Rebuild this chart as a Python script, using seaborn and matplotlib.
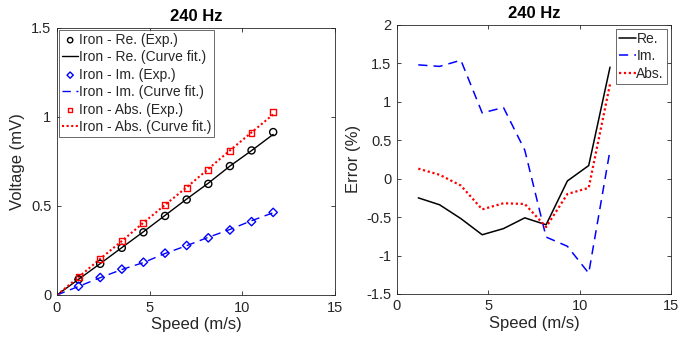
import numpy as np
import pandas as pd
import matplotlib
matplotlib.use("Agg")
import matplotlib.pyplot as plt
import seaborn as sns

sns.set_theme(style="ticks")
plt.rcParams["font.family"] = ["Liberation Sans", "DejaVu Sans"]

# Measured speeds (m/s)
speed = [1.167, 2.333, 3.5, 4.667, 5.833, 7.0, 8.167, 9.333, 10.5, 11.667]
fit_speed = [0.0] + speed

# Induced voltage (mV), measured
re_exp = [0.088, 0.175, 0.265, 0.352, 0.444, 0.536, 0.624, 0.724, 0.812, 0.915]
im_exp = [0.049, 0.098, 0.145, 0.184, 0.235, 0.278, 0.321, 0.365, 0.412, 0.464]
abs_exp = [0.100, 0.203, 0.303, 0.404, 0.504, 0.603, 0.703, 0.810, 0.912, 1.026]

# Induced voltage (mV), curve fit
re_fit = [0.0, 0.088, 0.176, 0.266, 0.355, 0.447, 0.539, 0.628, 0.724, 0.811, 0.902]
im_fit = [0.0, 0.048, 0.097, 0.143, 0.182, 0.233, 0.277, 0.324, 0.368, 0.417, 0.462]
abs_fit = [0.0, 0.100, 0.203, 0.303, 0.406, 0.506, 0.605, 0.708, 0.812, 0.913, 1.014]

# Relative error between measurement and fit (%)
re_err = [-0.25, -0.34, -0.52, -0.73, -0.65, -0.51, -0.60, -0.03, 0.17, 1.45]
im_err = [1.48, 1.46, 1.54, 0.855, 0.925, 0.37, -0.76, -0.88, -1.23, 0.37]
abs_err = [0.13, 0.05, -0.09, -0.40, -0.32, -0.33, -0.63, -0.20, -0.12, 1.23]

title = "240 Hz"
x_ticks = [0, 5, 10, 15]
v_ticks = [0, 0.5, 1, 1.5]
e_ticks = [-1.5, -1, -0.5, 0, 0.5, 1, 1.5, 2]

TXT = "#262626"
BLUE = "#0000ff"
RED = "#ff0000"

fig = plt.figure(figsize=(6.78, 3.41), dpi=100)
ax1 = fig.add_axes([0.084, 0.135, 0.410, 0.783])
ax2 = fig.add_axes([0.5855, 0.138, 0.404, 0.789])


def style_axes(ax):
    for s in ax.spines.values():
        s.set_color(TXT)
        s.set_linewidth(0.6)
    ax.tick_params(direction="in", length=3, width=0.6, colors=TXT,
                   labelsize=10.5, top=True, right=True, pad=4)
    ax.set_title(title, fontsize=12, fontweight="bold", color="black", pad=5)


# Left: voltage vs speed
mk = dict(ax=ax1, zorder=3, linewidth=1.0, legend=True)
sns.scatterplot(x=speed, y=re_exp, marker="o", s=26, facecolor="none",
                edgecolor="black", label="Iron - Re. (Exp.)", **mk)
sns.lineplot(x=fit_speed, y=re_fit, ax=ax1, color="black", linewidth=1.0,
             label="Iron - Re. (Curve fit.)")
sns.scatterplot(x=speed, y=im_exp, marker="D", s=18, facecolor="none",
                edgecolor=BLUE, label="Iron - Im. (Exp.)", **mk)
sns.lineplot(x=fit_speed, y=im_fit, ax=ax1, color=BLUE, linewidth=1.0,
             dashes=False, label="Iron - Im. (Curve fit.)").lines[-1].set_dashes([6, 4])
sns.scatterplot(x=speed, y=abs_exp, marker="s", s=18, facecolor="none",
                edgecolor=RED, label="Iron - Abs. (Exp.)", **mk)
sns.lineplot(x=fit_speed, y=abs_fit, ax=ax1, color=RED, linewidth=1.5,
             label="Iron - Abs. (Curve fit.)").lines[-1].set_linestyle((0, (1, 1.2)))

ax1.set_xlim(0, 15)
ax1.set_ylim(0, 1.5)
ax1.set_xticks(x_ticks)
ax1.set_yticks(v_ticks)
ax1.set_yticklabels(["0", "0.5", "1", "1.5"])
ax1.set_xlabel("Speed (m/s)", fontsize=12, color=TXT, labelpad=2)
ax1.set_ylabel("Voltage (mV)", fontsize=12, color=TXT, labelpad=4)
style_axes(ax1)
leg1 = ax1.legend(loc="upper left", fontsize=10, frameon=True, fancybox=False,
                  edgecolor=TXT, handlelength=1.2, handletextpad=0.05,
                  borderpad=0.2, labelspacing=0.25, borderaxespad=0.15,
                  markerscale=0.75)
leg1.get_frame().set_linewidth(0.6)

# Right: fit error vs speed
sns.lineplot(x=speed, y=re_err, ax=ax2, color="black", linewidth=1.1, label="Re.")
sns.lineplot(x=speed, y=im_err, ax=ax2, color=BLUE, linewidth=1.1,
             label="Im.").lines[-1].set_dashes([6, 4])
sns.lineplot(x=speed, y=abs_err, ax=ax2, color=RED, linewidth=1.6,
             label="Abs.").lines[-1].set_linestyle((0, (1, 1.2)))

ax2.set_xlim(0, 15)
ax2.set_ylim(-1.5, 2)
ax2.set_xticks(x_ticks)
ax2.set_yticks(e_ticks)
ax2.set_yticklabels(["-1.5", "-1", "-0.5", "0", "0.5", "1", "1.5", "2"])
ax2.set_xlabel("Speed (m/s)", fontsize=12, color=TXT, labelpad=2)
ax2.set_ylabel("Error (%)", fontsize=12, color=TXT, labelpad=4)
style_axes(ax2)
leg2 = ax2.legend(loc="upper right", fontsize=10, frameon=True, fancybox=False,
                  edgecolor=TXT, handlelength=1.2, handletextpad=0.05,
                  borderpad=0.2, labelspacing=0.25, borderaxespad=0.3)
leg2.get_frame().set_linewidth(0.6)

fig.savefig("out.png", dpi=100)
